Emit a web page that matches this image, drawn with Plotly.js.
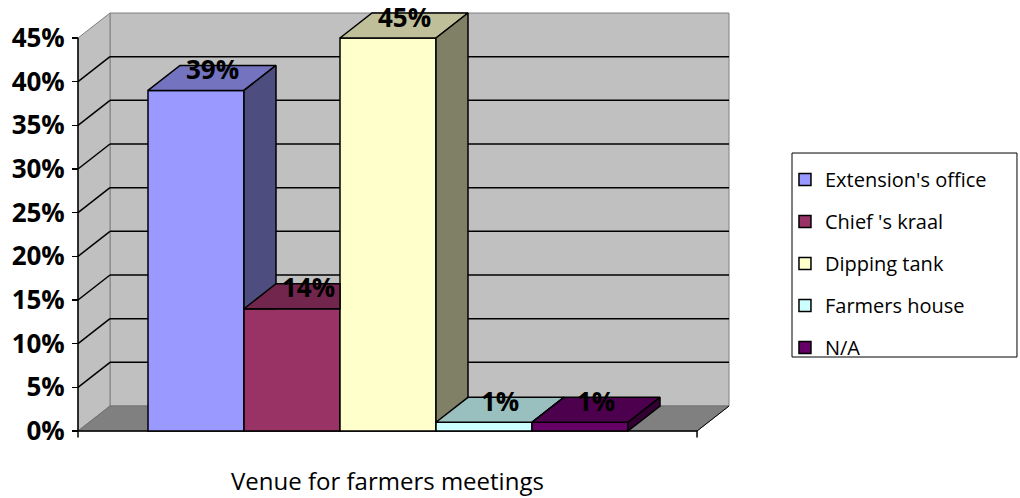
<!DOCTYPE html>
<html>
<head>
<meta charset="utf-8">
<script src="https://cdn.plot.ly/plotly-3.0.1.min.js"></script>
<style>
  html, body { margin: 0; padding: 0; background: #fff; }
  #chart { width: 1020px; height: 498px; }
</style>
</head>
<body>
<div id="chart"></div>
<script>
// Venue for farmers meetings: share of respondents per venue
const categories = ["Extension's office", "Chief 's kraal", "Dipping tank", "Farmers house", "N/A"];
const shares = [0.39, 0.14, 0.45, 0.01, 0.01];
const percentTicks = [0, 0.05, 0.10, 0.15, 0.20, 0.25, 0.30, 0.35, 0.40, 0.45];
const axisTitle = 'Venue for farmers meetings';

// face colours: front, top (shaded) and right side (darker)
const frontColors = ['#9999FF', '#993366', '#FFFFCC', '#CCFFFF', '#660066'];
const topColors   = ['#7373BF', '#73264D', '#BFBF99', '#99BFBF', '#4D004D'];
const sideColors  = ['#4D4D80', '#4D1A33', '#808066', '#668080', '#330033'];

// pseudo-3D depth offset, in axis units
const DX = 1 / 3;
const DY = 0.0286;
// front edge of the floor along the category axis
const X_LEFT = -1.229;
const X_RIGHT = 5.219;
const WALL_TOP = percentTicks[percentTicks.length - 1];

const FONT = 'Open Sans, Noto Sans, sans-serif';

function polyTrace(pts, fill) {
  const xs = pts.map(p => p[0]); xs.push(pts[0][0]);
  const ys = pts.map(p => p[1]); ys.push(pts[0][1]);
  return {
    type: 'scatter', mode: 'lines', x: xs, y: ys,
    fill: 'toself', fillcolor: fill,
    line: { color: '#000', width: 1.5 },
    hoverinfo: 'skip', showlegend: false
  };
}

// keep the part of a convex polygon with y >= yc
function clipAbove(poly, yc) {
  const out = [];
  for (let i = 0; i < poly.length; i++) {
    const p = poly[i], q = poly[(i + 1) % poly.length];
    const pin = p[1] >= yc, qin = q[1] >= yc;
    if (pin) out.push(p);
    if (pin !== qin) {
      const t = (yc - p[1]) / (q[1] - p[1]);
      out.push([p[0] + t * (q[0] - p[0]), yc]);
    }
  }
  return out;
}

const traces = [];

// front faces as bars (these also carry the legend)
categories.forEach((name, i) => {
  traces.push({
    type: 'bar', name: name, legendgroup: 'g' + i,
    x: [i], y: [shares[i]], width: [1],
    marker: { color: frontColors[i], line: { color: '#000', width: 1.5 } },
    hoverinfo: 'skip'
  });
});

// top and right faces, painted left to right; the next bar's front face hides what lies behind it
categories.forEach((name, i) => {
  const v = shares[i];
  const xl = i - 0.5, xr = i + 0.5;
  const vn = i + 1 < shares.length ? shares[i + 1] : -Infinity;

  let top;
  if (vn <= v) {
    top = [[xl, v], [xr, v], [xr + DX, v + DY], [xl + DX, v + DY]];
  } else if (vn >= v + DY) {
    top = [[xl, v], [xr, v], [xr, v + DY], [xl + DX, v + DY]];
  } else {
    top = [[xl, v], [xr, v], [xr, vn], [xr + DX * (vn - v) / DY, vn], [xr + DX, v + DY], [xl + DX, v + DY]];
  }
  traces.push(polyTrace(top, topColors[i]));

  let side = [[xr, 0], [xr, v], [xr + DX, v + DY], [xr + DX, DY]];
  if (vn > 0) side = clipAbove(side, vn);
  if (side.length >= 3) traces.push(polyTrace(side, sideColors[i]));
});

// walls, floor, gridlines and axis lines
const shapes = [];
const pathOf = pts => 'M' + pts.map(p => p[0] + ',' + p[1]).join(' L') + ' Z';

shapes.push({ type: 'path', xref: 'x', yref: 'y', layer: 'below',
  path: pathOf([[X_LEFT + DX, DY], [X_RIGHT + DX, DY], [X_RIGHT + DX, WALL_TOP + DY], [X_LEFT + DX, WALL_TOP + DY]]),
  fillcolor: '#C0C0C0', line: { color: '#808080', width: 1 } });
shapes.push({ type: 'path', xref: 'x', yref: 'y', layer: 'below',
  path: pathOf([[X_LEFT, 0], [X_LEFT, WALL_TOP], [X_LEFT + DX, WALL_TOP + DY], [X_LEFT + DX, DY]]),
  fillcolor: '#C0C0C0', line: { color: '#808080', width: 1 } });
shapes.push({ type: 'path', xref: 'x', yref: 'y', layer: 'below',
  path: pathOf([[X_LEFT, 0], [X_LEFT + DX, DY], [X_RIGHT + DX, DY], [X_RIGHT, 0]]),
  fillcolor: '#808080', line: { color: '#707070', width: 1 } });

percentTicks.slice(1, -1).forEach(t => {
  shapes.push({ type: 'line', xref: 'x', yref: 'y', layer: 'below',
    x0: X_LEFT + DX, y0: t + DY, x1: X_RIGHT + DX, y1: t + DY, line: { color: '#000', width: 1.5 } });
  shapes.push({ type: 'line', xref: 'x', yref: 'y', layer: 'below',
    x0: X_LEFT, y0: t, x1: X_LEFT + DX, y1: t + DY, line: { color: '#000', width: 1.5 } });
});

const tickDrop = 0.0075;
shapes.push({ type: 'line', xref: 'x', yref: 'y', layer: 'below',
  x0: X_LEFT, y0: 0, x1: X_LEFT, y1: WALL_TOP, line: { color: '#000', width: 1.5 } });
shapes.push({ type: 'line', xref: 'x', yref: 'y', layer: 'below',
  x0: X_LEFT, y0: 0, x1: X_RIGHT, y1: 0, line: { color: '#000', width: 1.5 } });
shapes.push({ type: 'line', xref: 'x', yref: 'y', layer: 'below',
  x0: X_RIGHT, y0: 0, x1: X_RIGHT + DX, y1: DY, line: { color: '#000', width: 1 } });
[X_LEFT, X_RIGHT].forEach(x => {
  shapes.push({ type: 'line', xref: 'x', yref: 'y', layer: 'below',
    x0: x, y0: 0, x1: x, y1: -tickDrop, line: { color: '#000', width: 1.5 } });
});

// legend frame
shapes.push({ type: 'rect', xref: 'paper', yref: 'paper', layer: 'below',
  x0: 1.0912, x1: 1.4331, y0: 0.1930, y1: 0.6674,
  fillcolor: '#fff', line: { color: '#000', width: 1 } });

// value labels above each bar, plus the category axis title
const annotations = categories.map((name, i) => ({
  xref: 'x', yref: 'y', x: i + DX / 2, y: shares[i] + DY / 2, yshift: 9,
  text: Math.round(shares[i] * 100) + '%', showarrow: false,
  font: { family: FONT, size: 26, color: '#000', weight: 'bold' }
}));
annotations.push({
  xref: 'x', yref: 'paper', x: (X_LEFT + X_RIGHT) / 2, y: -0.0953, yanchor: 'middle',
  text: axisTitle, showarrow: false,
  font: { family: FONT, size: 24, color: '#000' }
});

const layout = {
  width: 1020, height: 498,
  margin: { l: 74, r: 288, t: 10, b: 58, pad: 0 },
  paper_bgcolor: '#fff', plot_bgcolor: '#fff',
  barmode: 'overlay',
  showlegend: true,
  xaxis: { range: [-1.2708, 5.5833], visible: false, fixedrange: true },
  yaxis: {
    range: [-0.0103, 0.48206], anchor: 'free', position: 0.00608,
    tickvals: percentTicks, tickformat: '.0%',
    ticks: 'outside', ticklen: 6, tickwidth: 1.5, tickcolor: '#000',
    ticklabelstandoff: 2,
    tickfont: { family: FONT, size: 26, color: '#000', weight: 'bold' },
    showgrid: false, zeroline: false, showline: false, automargin: false, fixedrange: true
  },
  legend: {
    x: 1.0805, xanchor: 'left', y: 0.6511, yanchor: 'top',
    traceorder: 'grouped', tracegroupgap: 13,
    bgcolor: 'rgba(0,0,0,0)', borderwidth: 0,
    font: { family: FONT, size: 20, color: '#000' },
    itemclick: false, itemdoubleclick: false
  },
  shapes: shapes,
  annotations: annotations
};

Plotly.newPlot('chart', traces, layout, { staticPlot: true, displayModeBar: false });
</script>
</body>
</html>
